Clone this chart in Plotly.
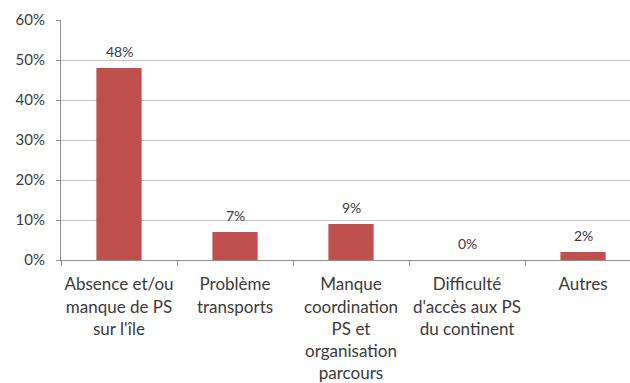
import plotly.graph_objects as go

categories = [
    "Absence et/ou<br>manque de PS<br>sur l'île",
    "Problème<br>transports",
    "Manque<br>coordination<br>PS et<br>organisation<br>parcours",
    "Difficulté<br>d'accès aux PS<br>du continent",
    "Autres",
]
values = [0.48, 0.07, 0.09, 0.00, 0.02]
y_ticks = [0, 0.1, 0.2, 0.3, 0.4, 0.5, 0.6]

FONT = "Lato, Open Sans, sans-serif"
TEXT = "#3A3A3A"

fig = go.Figure(
    go.Bar(
        x=categories,
        y=values,
        width=0.39,
        marker=dict(color="#C0504D", line=dict(width=0)),
    )
)

# value labels sit a little higher above each bar than Plotly's default
for cat, v in zip(categories, values):
    fig.add_annotation(
        x=cat, y=v, text=f"{v:.0%}", showarrow=False,
        yanchor="middle", yshift=17,
        font=dict(family=FONT, size=14, color=TEXT),
    )

fig.update_layout(
    width=630,
    height=383,
    margin=dict(l=61, r=0, t=20, b=123),
    paper_bgcolor="white",
    plot_bgcolor="white",
    showlegend=False,
)

fig.update_xaxes(
    type="category",
    range=[-0.5, 4.405],
    showgrid=False,
    showline=True,
    linecolor="#8C8C8C",
    linewidth=1,
    ticks="outside",
    tickson="boundaries",
    ticklen=5,
    tickcolor="#8C8C8C",
    tickangle=0,
    automargin=False,
    tickfont=dict(family=FONT, size=17, color=TEXT),
    ticklabelstandoff=9,
    zeroline=False,
)
fig.update_yaxes(
    range=[0, 0.6],
    tickvals=y_ticks,
    tickformat=".0%",
    showgrid=True,
    gridcolor="#C4C4C4",
    gridwidth=1,
    showline=True,
    linecolor="#8C8C8C",
    ticks="outside",
    ticklen=4,
    tickcolor="#8C8C8C",
    automargin=False,
    tickfont=dict(family=FONT, size=15, color=TEXT),
    ticklabelstandoff=8,
    zeroline=False,
)

fig.write_html("out.html")
